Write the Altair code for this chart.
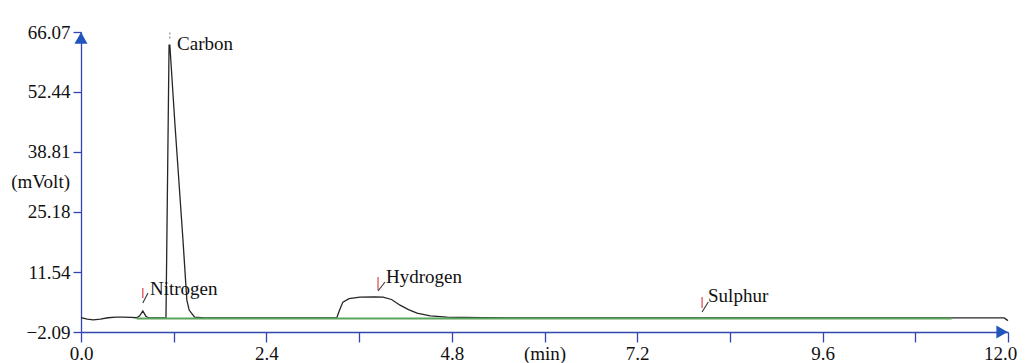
import altair as alt
import pandas as pd

# Chromatogram trace (time in min, signal in mVolt)
trace_t = [0.00, 0.08, 0.16, 0.25, 0.35, 0.45, 0.55, 0.65, 0.72, 0.76, 0.80, 0.84, 0.88,
           1.00, 1.10, 1.14, 1.15, 1.217, 1.32, 1.37, 1.40, 1.47, 1.60, 2.40, 3.30,
           3.31, 3.35, 3.39, 3.47, 3.61, 3.80, 3.91, 4.02, 4.13, 4.24, 4.35, 4.52, 4.74,
           5.20, 6.00, 8.00, 10.00, 11.95, 12.00]
trace_v = [1.20, 0.85, 0.65, 0.85, 1.15, 1.30, 1.30, 1.25, 1.15, 1.60, 2.70, 1.50, 1.10,
           1.10, 1.10, 63.1, 63.1, 44.9, 18.8, 5.2, 2.9, 1.3, 1.1, 1.1, 1.1,
           1.1, 3.0, 4.7, 5.5, 5.85, 5.9, 5.85, 5.3, 4.0, 3.0, 2.2, 1.55, 1.3,
           1.15, 1.1, 1.1, 1.1, 1.1, 0.5]

# Baseline (integration) segment
base_t = [0.72, 11.27]
base_v = [1.0, 1.0]

# Peak names and label anchors
peak_names = ["Carbon", "Nitrogen", "Hydrogen", "Sulphur"]
label_t = [1.243, 0.893, 3.948, 8.117]
label_v = [61.97, 6.32, 9.04, 4.72]

# Red peak markers (vertical) and black leader strokes
mark_t = [0.80, 3.845, 8.04]
mark_v1 = [5.63, 7.45, 3.36]
mark_v2 = [7.905, 10.40, 5.86]
lead_t1 = [0.80, 3.845, 8.04]
lead_v1 = [4.50, 7.22, 2.45]
lead_t2 = [0.867, 3.935, 8.12]
lead_v2 = [6.77, 9.27, 4.72]

# Carbon apex tick
apex_t = [1.15]
apex_v1 = [64.6]
apex_v2 = [66.3]

# Axes
x_ticks = [0.0, 1.2, 2.4, 3.6, 4.8, 6.0, 7.2, 8.4, 9.6, 10.8, 12.0]
x_labels = ["0.0", "", "2.4", "", "4.8", "(min)", "7.2", "", "9.6", "", "12.0"]
y_ticks = [-2.09, 11.54, 25.18, 38.81, 52.44, 66.07]
y_title = "(mVolt)"
y_title_v = 31.995

XMIN, XMAX = 0.0, 12.0
YMIN, YMAX = -2.09, 66.07

BLUE = "#3345b0"
FONT = "Liberation Serif, Times New Roman, serif"

label_expr = " : ".join(
    [f"datum.value == {t} ? '{l}'" for t, l in zip(x_ticks, x_labels)]) + " : ''"

xs = alt.Scale(domain=[XMIN, XMAX], nice=False, zero=False)
ys = alt.Scale(domain=[YMIN, YMAX], nice=False, zero=False)
x_axis = alt.Axis(values=x_ticks, labelExpr=label_expr, tickSize=10, labelPadding=2,
                  domainColor=BLUE, tickColor=BLUE, domainWidth=1.3, tickWidth=1.3,
                  labelFont=FONT, labelFontSize=19, labelColor="#111", grid=False,
                  labelFlush=False, labelOverlap=False, title=None,
                  labelOffset={"condition": {"test": f"datum.value == {XMAX}", "value": -8},
                               "value": 0})
y_axis = alt.Axis(values=y_ticks, labelExpr="format(datum.value, '.2f')", tickSize=8,
                  labelPadding=3, domainColor=BLUE, tickColor=BLUE, domainWidth=1.3,
                  tickWidth=1.3, labelFont=FONT, labelFontSize=19, labelColor="#111",
                  grid=False, labelOverlap=False, title=None)

X = alt.X("t:Q", scale=xs, axis=x_axis, title=None)
Y = alt.Y("v:Q", scale=ys, axis=y_axis, title=None)

trace_df = pd.DataFrame({"t": trace_t, "v": trace_v})
base_df = pd.DataFrame({"t": base_t, "v": base_v})
labels_df = pd.DataFrame({"t": label_t, "v": label_v, "name": peak_names})
marks_df = pd.DataFrame({"t": mark_t, "v": mark_v1, "v2": mark_v2})
lead_df = pd.DataFrame({"t": lead_t1, "v": lead_v1, "t2": lead_t2, "v2": lead_v2})
apex_df = pd.DataFrame({"t": apex_t, "v": apex_v1, "v2": apex_v2})
ytitle_df = pd.DataFrame({"t": [XMIN], "v": [y_title_v], "name": [y_title]})
yarrow_df = pd.DataFrame({"t": [XMIN], "v": [YMAX]})
xarrow_df = pd.DataFrame({"t": [XMAX], "v": [YMIN]})

trace = alt.Chart(trace_df).mark_line(color="#262626", strokeWidth=1.3, clip=False).encode(
    x=X, y=Y, order="t:Q")
base = alt.Chart(base_df).mark_line(color="#5aa55a", strokeWidth=2).encode(x=X, y=Y)

texts = alt.Chart(labels_df).mark_text(font=FONT, fontSize=19, align="left",
                                       baseline="alphabetic", color="#111").encode(
    x=X, y=Y, text="name:N")
reds = alt.Chart(marks_df).mark_rule(color="#e0505a", strokeWidth=1.3).encode(
    x=X, y=Y, y2="v2:Q")
leads = alt.Chart(lead_df).mark_rule(color="#333333", strokeWidth=1.1).encode(
    x=X, y=Y, x2="t2:Q", y2="v2:Q")
apex = alt.Chart(apex_df).mark_rule(color="#777777", strokeWidth=1, strokeDash=[2, 2]).encode(
    x=X, y=Y, y2="v2:Q")
ytitle = alt.Chart(ytitle_df).mark_text(font=FONT, fontSize=19, align="right",
                                        baseline="middle", dx=-11, color="#111").encode(
    x=X, y=Y, text="name:N")
yarrow = alt.Chart(yarrow_df).mark_point(shape="triangle-up", filled=True, size=170,
                                         color="#2255bb", opacity=1, yOffset=6).encode(x=X, y=Y)
xarrow = alt.Chart(xarrow_df).mark_point(shape="triangle-right", filled=True, size=170,
                                         color="#2255bb", opacity=1, xOffset=-6).encode(x=X, y=Y)

chart = alt.layer(trace, base, texts, reds, leads, apex, ytitle, yarrow, xarrow).properties(
    width=927, height=300,
    autosize=alt.AutoSizeParams(type="none"),
    padding={"left": 73, "top": 24, "right": 11, "bottom": 33},
    background="white",
).configure_view(stroke=None)

chart.save("out.html", embed_options={"renderer": "svg", "actions": False})
